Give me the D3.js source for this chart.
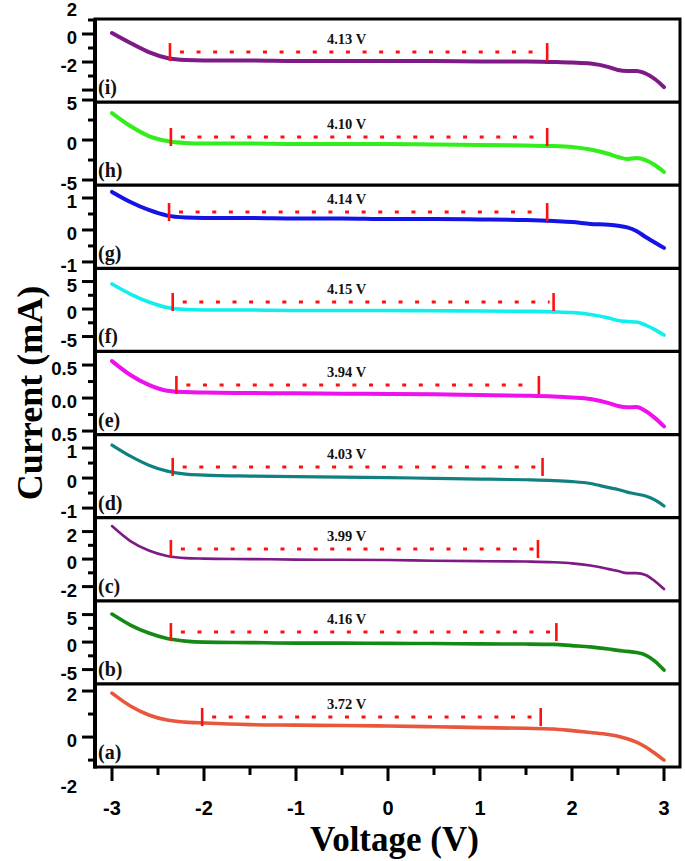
<!DOCTYPE html>
<html>
<head>
<meta charset="utf-8">
<script src="https://cdn.jsdelivr.net/npm/d3@7"></script>
<style>
  html, body { margin: 0; padding: 0; background: #fff; }
  svg { display: block; }
</style>
</head>
<body>
<svg id="chart" width="685" height="861"></svg>
<script>
// ---------- DATA ----------
const voltage = [-3, -2.8, -2.6, -2.4, -2.2, -2.0, -1.5, -1, -0.5, 0, 0.5, 1, 1.5, 1.8, 2.0, 2.2, 2.4, 2.5, 2.6, 2.7, 2.8, 2.9, 3.0];

const currentI = [0.07, -0.64, -1.29, -1.71, -1.86, -1.89, -1.89, -1.93, -1.93, -1.93, -1.93, -1.96, -1.96, -2.0, -2.04, -2.11, -2.36, -2.57, -2.64, -2.64, -2.82, -3.21, -3.79];
const currentH = [3.375, 1.75, 0.5, -0.125, -0.375, -0.44, -0.44, -0.5, -0.5, -0.5, -0.56, -0.625, -0.69, -0.75, -0.875, -1.19, -1.75, -2.125, -2.375, -2.25, -2.5, -3.125, -4.0];
const currentG = [1.19, 0.875, 0.625, 0.45, 0.39, 0.375, 0.375, 0.36, 0.36, 0.34, 0.34, 0.33, 0.31, 0.28, 0.25, 0.19, 0.16, 0.13, 0.08, -0.03, -0.22, -0.39, -0.56];
const currentF = [4.55, 2.73, 1.27, 0.27, -0.09, -0.18, -0.18, -0.27, -0.27, -0.27, -0.31, -0.36, -0.42, -0.51, -0.64, -1.0, -1.64, -2.09, -2.27, -2.36, -2.91, -3.73, -4.73];
const currentE = [0.56, 0.35, 0.2, 0.11, 0.09, 0.083, 0.076, 0.071, 0.067, 0.06, 0.056, 0.045, 0.035, 0.023, 0.008, -0.015, -0.076, -0.12, -0.14, -0.136, -0.197, -0.30, -0.43];
const currentD = [1.1, 0.73, 0.43, 0.23, 0.13, 0.1, 0.067, 0.05, 0.033, 0.017, -0.01, -0.033, -0.057, -0.083, -0.117, -0.18, -0.32, -0.38, -0.47, -0.53, -0.6, -0.73, -0.93];
const currentC = [2.4, 1.31, 0.62, 0.22, 0.07, 0.036, 0, -0.036, -0.05, -0.07, -0.12, -0.15, -0.18, -0.23, -0.31, -0.47, -0.73, -0.87, -1.02, -1.02, -1.16, -1.6, -2.18];
const currentB = [5.09, 3.09, 1.64, 0.64, 0.18, 0, -0.09, -0.18, -0.18, -0.24, -0.27, -0.33, -0.36, -0.42, -0.64, -0.87, -1.27, -1.51, -1.69, -1.91, -2.36, -3.45, -5.09];
const currentA = [1.91, 1.35, 0.96, 0.74, 0.65, 0.61, 0.54, 0.52, 0.5, 0.48, 0.45, 0.41, 0.38, 0.35, 0.28, 0.2, 0.11, 0.04, -0.07, -0.22, -0.43, -0.7, -1.0];

// panels from top to bottom
const panelNames = ["(i)", "(h)", "(g)", "(f)", "(e)", "(d)", "(c)", "(b)", "(a)"];
const panelCurrents = [currentI, currentH, currentG, currentF, currentE, currentD, currentC, currentB, currentA];
const panelColors = ["#7d1a86", "#33ee1a", "#1414e6", "#11eeee", "#ee11ee", "#118080", "#7d1a86", "#148a14", "#e8573c"];
const panelLineWidths = [4, 4, 4, 3.6, 4, 3.2, 2.6, 3.6, 3.6];

const yDomains = [[-4.86, 1.07], [-5.65, 4.74], [-1.2, 1.4], [-7.71, 7.4], [-0.553, 0.706], [-1.32, 1.45], [-3.03, 3.01], [-7.6, 7.51], [-1.30, 2.31]];
const yMajorTicks = [[2, 0, -2, -4], [5, 0, -5], [1, 0, -1], [5, 0, -5], [0.5, 0, -0.5], [1, 0, -1], [2, 0, -2], [5, 0, -5], [2, 0, -2]];
const yTickLabels = [["2", "0", "-2", ""], ["5", "0", "-5"], ["1", "0", "-1"], ["5", "0", "-5"], ["0.5", "0.0", "0.5"], ["1", "0", "-1"], ["2", "0", "-2"], ["5", "0", "-5"], ["2", "0", "-2"]];
const yMinorTicks = [[1, -1, -3], [2.5, -2.5], [0.5, -0.5], [2.5, -2.5], [0.25, -0.25], [0.5, -0.5], [1, -1], [2.5, -2.5], [1, -1]];

const gapLabels = ["4.13 V", "4.10 V", "4.14 V", "4.15 V", "3.94 V", "4.03 V", "3.99 V", "4.16 V", "3.72 V"];
const gapStart = [-2.37, -2.36, -2.38, -2.34, -2.30, -2.34, -2.36, -2.36, -2.02];
const gapEnd = [1.73, 1.73, 1.73, 1.80, 1.64, 1.68, 1.63, 1.83, 1.66];
const gapLevel = [-1.29, 0.375, 0.56, 1.27, 0.197, 0.37, 0.73, 1.82, 0.87];
const gapLabelX = -0.45;

const xMajorTicks = [-3, -2, -1, 0, 1, 2, 3];
const xTickLabels = ["-3", "-2", "-1", "0", "1", "2", "3"];
const xMinorTicks = [-2.5, -1.5, -0.5, 0.5, 1.5, 2.5];

const xTitle = "Voltage (V)";
const yTitle = "Current (mA)";

// ---------- LAYOUT ----------
const svg = d3.select("#chart");
const plotLeft = 95, plotRight = 680, plotTop = 19, plotBottom = 767;
const nPanels = panelNames.length;
const ph = (plotBottom - plotTop) / nPanels;

const x = d3.scaleLinear().domain([-3, 3]).range([112, 664]);

const sansBold = "'Liberation Sans', Arial, sans-serif";
const serif = "'Liberation Serif', 'Times New Roman', serif";

panelNames.forEach((name, i) => {
  const pTop = plotTop + i * ph, pBot = pTop + ph;
  const y = d3.scaleLinear().domain(yDomains[i]).range([pBot, pTop]);
  const g = svg.append("g");

  // curve
  const line = d3.line()
    .x((d, k) => x(voltage[k]))
    .y(d => y(d))
    .curve(d3.curveMonotoneX);
  g.append("path")
    .datum(panelCurrents[i])
    .attr("d", line)
    .attr("fill", "none")
    .attr("stroke", panelColors[i])
    .attr("stroke-width", panelLineWidths[i])
    .attr("stroke-linecap", "round")
    .attr("stroke-linejoin", "round");

  // red gap markers
  const ly = y(gapLevel[i]);
  const x0 = x(gapStart[i]), x1 = x(gapEnd[i]);
  g.append("line")
    .attr("x1", x0 + 10).attr("x2", x1 - 4)
    .attr("y1", ly).attr("y2", ly)
    .attr("stroke", "#ff1010").attr("stroke-width", 3)
    .attr("stroke-dasharray", "4,12.6");
  [x0, x1].forEach(xx => {
    g.append("line")
      .attr("x1", xx).attr("x2", xx)
      .attr("y1", ly - 9).attr("y2", ly + 9)
      .attr("stroke", "#ff1010").attr("stroke-width", 2.6);
  });
  g.append("text")
    .attr("x", x(gapLabelX)).attr("y", ly - 8)
    .attr("text-anchor", "middle")
    .attr("font-family", serif).attr("font-weight", "bold")
    .attr("font-size", 14.5)
    .attr("fill", "#111")
    .text(gapLabels[i]);

  // panel label
  g.append("text")
    .attr("x", 98).attr("y", pBot - 8)
    .attr("font-family", serif).attr("font-weight", "bold")
    .attr("font-size", 20)
    .attr("fill", "#111")
    .text(name);

  // y ticks
  yMajorTicks[i].forEach((v, k) => {
    const yy = y(v);
    if (yy >= pTop - 3 && yy <= pBot + 3) {
      svg.append("line").attr("x1", plotLeft - 13).attr("x2", plotLeft)
        .attr("y1", yy).attr("y2", yy)
        .attr("stroke", "#000").attr("stroke-width", 3);
    }
    svg.append("text")
      .attr("x", plotLeft - 18).attr("y", yy + 3.5)
      .attr("text-anchor", "end")
      .attr("dominant-baseline", "central")
      .attr("font-family", sansBold).attr("font-weight", "bold")
      .attr("font-size", 18.5)
      .attr("fill", "#000")
      .text(yTickLabels[i][k]);
  });
  yMinorTicks[i].forEach(v => {
    const yy = y(v);
    if (yy >= pTop - 3 && yy <= pBot + 3) {
      svg.append("line").attr("x1", plotLeft - 7).attr("x2", plotLeft)
        .attr("y1", yy).attr("y2", yy)
        .attr("stroke", "#000").attr("stroke-width", 3);
    }
  });

  // separator
  if (i > 0) {
    svg.append("line").attr("x1", plotLeft).attr("x2", plotRight)
      .attr("y1", pTop).attr("y2", pTop)
      .attr("stroke", "#000").attr("stroke-width", 3.2);
  }
});

// frame
svg.append("rect")
  .attr("x", plotLeft).attr("y", plotTop)
  .attr("width", plotRight - plotLeft).attr("height", plotBottom - plotTop)
  .attr("fill", "none").attr("stroke", "#000").attr("stroke-width", 3);
svg.append("line").attr("x1", plotLeft).attr("x2", plotLeft)
  .attr("y1", plotTop).attr("y2", plotBottom + 1.5)
  .attr("stroke", "#000").attr("stroke-width", 4);

// x axis ticks
xMajorTicks.forEach((v, k) => {
  svg.append("line").attr("x1", x(v)).attr("x2", x(v))
    .attr("y1", plotBottom).attr("y2", plotBottom + 14)
    .attr("stroke", "#000").attr("stroke-width", 3);
  svg.append("text")
    .attr("x", x(v)).attr("y", plotBottom + 41)
    .attr("text-anchor", "middle")
    .attr("dominant-baseline", "central")
    .attr("font-family", sansBold).attr("font-weight", "bold")
    .attr("font-size", 20)
    .attr("fill", "#000")
    .text(xTickLabels[k]);
});
xMinorTicks.forEach(v => {
  svg.append("line").attr("x1", x(v)).attr("x2", x(v))
    .attr("y1", plotBottom).attr("y2", plotBottom + 8)
    .attr("stroke", "#000").attr("stroke-width", 3);
});

// titles
svg.append("text")
  .attr("x", (plotLeft + plotRight) / 2 + 7).attr("y", 851)
  .attr("text-anchor", "middle")
  .attr("font-family", serif).attr("font-weight", "bold")
  .attr("font-size", 35)
  .attr("fill", "#000")
  .text(xTitle);
svg.append("text")
  .attr("transform", "translate(42,393) rotate(-90)")
  .attr("text-anchor", "middle")
  .attr("font-family", serif).attr("font-weight", "bold")
  .attr("font-size", 36)
  .attr("fill", "#000")
  .text(yTitle);
</script>
</body>
</html>
